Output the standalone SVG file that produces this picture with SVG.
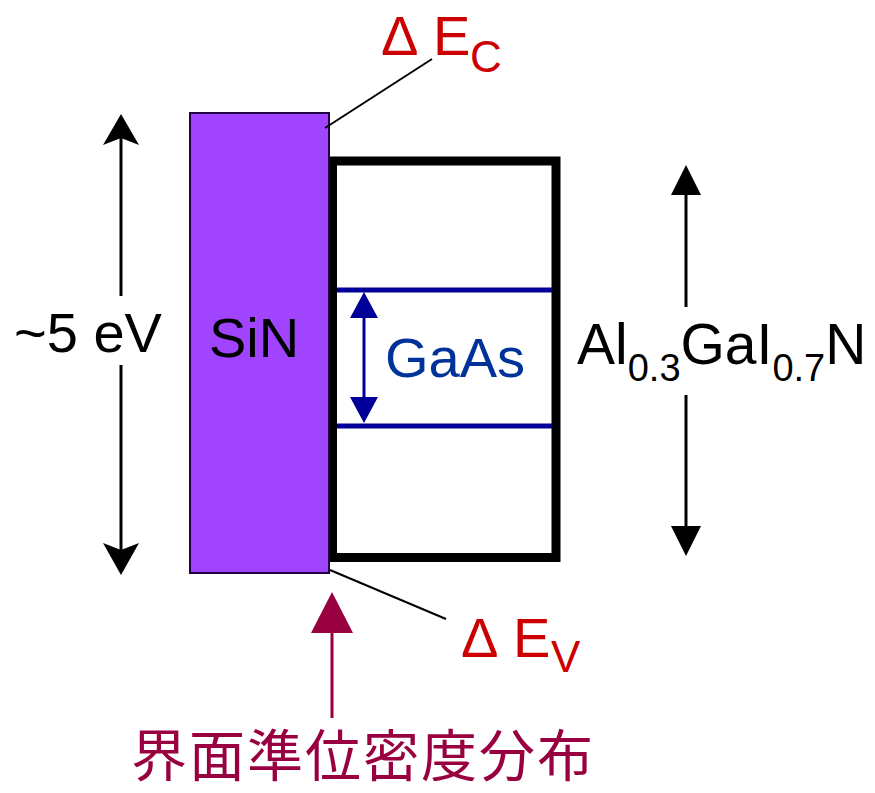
<svg xmlns="http://www.w3.org/2000/svg" width="875" height="793" viewBox="0 0 875 793">
<style>
.t{font-family:"Liberation Sans",Arial,"Noto Sans CJK JP",sans-serif;}
.blk{fill:#000;}
.red{fill:#CC0000;}
.ln{stroke:#000;stroke-width:3;fill:none;}
</style>
<rect width="875" height="793" fill="#fff"/>
<g id="algan-box">
<rect x="332.5" y="161" width="223.5" height="396.5" fill="#fff" stroke="#000" stroke-width="9"/>
</g>
<g id="gaas">
<line x1="337" y1="290" x2="552" y2="290" stroke="#000099" stroke-width="5"/>
<line x1="337" y1="426" x2="552" y2="426" stroke="#000099" stroke-width="5"/>
<text class="t" x="385" y="377" font-size="56" fill="#003399">GaAs</text>
</g>
<g id="sin">
<rect x="190" y="113" width="139" height="460" fill="#A044FF" stroke="#220044" stroke-width="2"/>
<text class="t blk" x="209" y="357" font-size="56">SiN</text>
</g>
<g id="label-5ev">
<text class="t blk" x="14" y="352" font-size="56">~5 eV</text>
</g>
<g id="label-algan">
<text class="t blk" x="577" y="364" font-size="57">Al<tspan font-size="38" dy="17">0.3</tspan><tspan dy="-17">GaI</tspan><tspan font-size="38" dy="17">0.7</tspan><tspan dy="-17">N</tspan></text>
</g>
<g id="label-dec">
<text class="t red" x="381" y="55" font-size="56">Δ</text>
<text class="t red" x="433" y="55" font-size="56">E</text>
<text class="t red" x="470" y="72" font-size="44">C</text>
</g>
<g id="label-dev">
<text class="t red" x="461" y="657" font-size="56">Δ</text>
<text class="t red" x="513" y="657" font-size="56">E</text>
<text class="t red" x="551" y="672" font-size="44">V</text>
</g>
<g id="label-dit">
<text x="131" y="776" font-size="56" letter-spacing="2" fill="#990040" font-family="'Noto Sans CJK JP','Noto Sans CJK SC',sans-serif">界面準位密度分布</text>
</g>
<g id="connectors">
<line class="ln" x1="121" y1="138" x2="121" y2="296"/>
<line class="ln" x1="121" y1="365" x2="121" y2="550"/>
<polygon points="121,114 139,145 121,138 103,145" fill="#000"/>
<polygon points="121,575 139,543 121,550 103,543" fill="#000"/>
<line class="ln" x1="686" y1="195" x2="686" y2="307"/>
<line class="ln" x1="686" y1="395" x2="686" y2="526"/>
<polygon points="686,165 701,195 671,195" fill="#000"/>
<polygon points="686,556 701,526 671,526" fill="#000"/>
<line x1="364" y1="316" x2="364" y2="399" stroke="#000099" stroke-width="3"/>
<polygon points="364,292 378,318 350,318" fill="#000099"/>
<polygon points="364,423 378,397 350,397" fill="#000099"/>
<line x1="325" y1="128" x2="432" y2="59" stroke="#000" stroke-width="2"/>
<line x1="330" y1="570" x2="446" y2="619" stroke="#000" stroke-width="2"/>
<line x1="332" y1="630" x2="332" y2="718" stroke="#990040" stroke-width="3"/>
<polygon points="332,592 353,633 311,633" fill="#990040"/>
</g>
</svg>
